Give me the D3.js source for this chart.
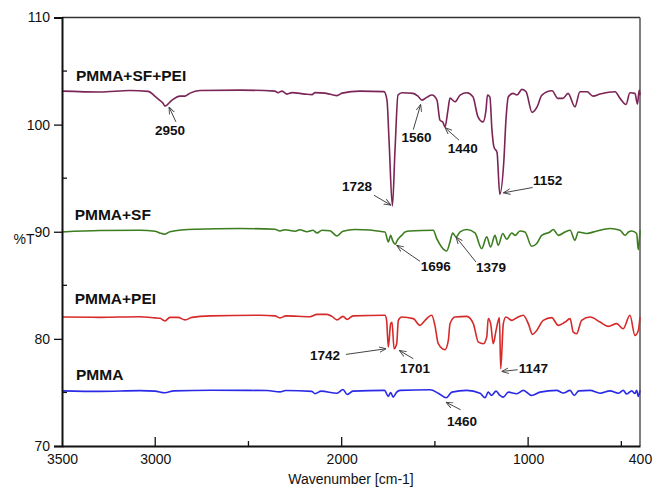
<!DOCTYPE html>
<html><head><meta charset="utf-8">
<script src="https://cdn.jsdelivr.net/npm/d3@7"></script>
<style>
html,body{margin:0;padding:0;background:#fff;}
svg{display:block;font-family:"Liberation Sans",Arial,sans-serif;}
</style></head>
<body>
<svg id="chart" width="654" height="487"></svg>
<script>
// ---------- data ----------
const seriesNames = ["PMMA+SF+PEI", "PMMA+SF", "PMMA+PEI", "PMMA"];

const wnPurple = [3500,3296,3135,3039,2996,2980,2958,2948,2910,2867,2840,2813,2760,2545,2358,2342,2320,2293,2266,2197,2159,2143,2089,2025,1998,1902,1773,1757,1746,1728,1714,1698,1676,1617,1591,1569,1542,1516,1489,1473,1457,1446,1430,1419,1392,1365,1328,1296,1269,1242,1226,1218,1205,1194,1183,1167,1152,1130,1119,1106,1081,1060,1033,1011,979,952,926,872,840,813,786,749,722,684,652,614,534,507,475,454,427,414,404,400];
const tPurple  = [103.13,103.05,103.18,103.1,102.57,102.34,102.0,101.73,102.29,102.66,102.66,102.94,103.18,103.22,103.13,102.99,103.13,102.85,102.99,102.85,102.8,102.99,102.94,102.71,102.94,103.13,103.08,102.29,98.55,92.4,97.6,102.76,102.97,102.92,102.66,102.29,102.57,102.76,102.29,100.42,100.23,99.77,101.36,102.48,102.13,102.76,102.97,102.6,100.73,100.26,101.36,102.76,102.57,99.49,97.9,97.43,93.5,96.68,100.42,102.6,102.92,102.76,103.29,103.07,101.14,101.66,102.76,103.16,102.45,102.45,102.92,101.66,103.07,103.07,102.66,102.85,103.07,102.45,101.89,102.97,102.92,101.92,103.22,102.76];

const wnGreen = [3500,3296,3082,3001,2974,2948,2921,2787,2545,2358,2331,2304,2250,2224,2186,2154,2132,2106,2063,2025,1993,1929,1768,1750,1737,1726,1712,1702,1678,1660,1634,1509,1490,1464,1437,1419,1405,1387,1365,1329,1285,1249,1222,1201,1178,1160,1136,1115,1088,1070,1044,1017,981,954,927,883,865,838,802,775,749,731,686,632,561,507,480,462,444,418,409,400];
const tGreen  = [89.98,90.11,90.14,90.05,89.87,89.77,90.0,90.23,90.3,90.23,90.07,90.19,90.05,90.19,90.0,90.14,89.89,90.14,90.09,89.61,90.05,90.21,89.98,89.05,89.66,89.14,88.83,89.2,89.66,89.98,90.07,90.14,89.35,88.58,88.2,89.05,89.89,89.52,89.98,90.21,89.89,88.43,89.52,88.58,89.66,88.74,89.83,89.3,89.89,89.66,90.07,89.98,88.64,88.9,89.66,89.98,90.21,89.66,89.98,90.14,89.2,89.98,89.83,90.07,90.3,90.14,89.66,89.98,90.07,89.83,88.33,90.14];

const wnRed = [3500,3296,3082,3001,2974,2948,2921,2878,2840,2803,2706,2438,2358,2331,2299,2170,2132,2079,2052,2025,1993,1971,1939,1768,1759,1750,1737,1730,1719,1705,1696,1678,1616,1580,1553,1517,1500,1482,1446,1428,1419,1392,1329,1294,1267,1240,1222,1214,1201,1187,1172,1160,1154,1147,1133,1119,1088,1061,1026,999,976,954,919,874,838,802,775,758,740,713,668,614,570,525,490,454,427,409,400];
const tRed  = [82.04,82.01,82.06,81.96,81.92,81.68,82.01,82.01,81.77,82.01,82.15,82.2,82.15,81.96,82.15,82.06,82.29,82.29,82.1,81.77,82.1,81.82,82.15,82.2,81.73,79.23,81.42,81.54,79.08,79.55,81.73,82.04,81.89,81.26,81.73,82.2,81.26,79.55,78.99,79.86,81.42,82.04,82.1,81.42,79.7,79.55,80.17,81.89,81.42,79.55,80.79,81.73,82.0,77.21,81.42,82.04,81.73,81.98,82.2,81.42,80.42,80.79,81.73,81.98,81.26,81.57,81.89,80.63,80.48,81.73,82.04,81.57,81.17,81.42,80.95,82.2,80.33,80.79,82.04];

const wnBlue = [3500,3296,3082,3001,2948,2900,2700,2400,2331,2300,2160,2143,2110,2025,1993,1971,1940,1770,1750,1737,1724,1705,1687,1526,1482,1440,1409,1329,1258,1231,1214,1196,1172,1151,1133,1106,1061,1026,981,936,847,811,775,753,729,668,614,561,516,490,471,444,427,418,409,400];
const tBlue  = [75.15,75.1,75.17,75.12,74.97,75.15,75.2,75.18,75.05,75.18,75.1,74.88,75.12,74.93,75.28,74.81,75.12,75.19,74.63,75.0,74.56,75.03,75.19,75.25,74.93,74.5,75.03,75.19,74.93,74.5,75.03,74.72,75.12,74.72,74.56,75.03,74.88,75.19,74.72,75.03,75.19,74.95,75.19,74.72,75.15,75.19,74.93,75.15,74.93,75.19,74.85,75.15,74.9,75.19,74.63,75.19];

const yTickValues = [70, 80, 90, 100, 110];
const yMinorTicks = [75, 85, 95, 105];
const xTickLabels = [3500, 3000, 2000, 1000, 400];
const xMajorTicks = [3000, 2000, 1000];
const xMinorTicks = [2500, 1500, 500];

// series label anchors (wavenumber, %T)
const labelW = [3425, 3432, 3432, 3425];
const labelT = [104.09, 91.12, 83.22, 76.17];

// peak annotations: text, text position, arrow tail, arrow tip (wavenumber, %T)
const annText  = ["2950","1728","1560","1440","1152","1696","1379","1742","1701","1147","1460"];
const annTextW = [2921,1918,1598,1351,895,1496,1199,2089,1607,972,1355];
const annTextT = [99.42,94.25,98.8,97.78,94.81,86.78,86.62,78.46,77.27,77.21,72.29];
const annTailW = [2889,1827,1616,1371,976,1580,1280,1977,1616,1056,1362];
const annTailT = [100.26,93.41,99.53,98.55,94.13,87.24,87.18,78.55,78.15,77.12,73.38];
const annTipW  = [2926,1736,1576,1446,1133,1705,1387,1762,1691,1142,1441];
const annTipT  = [101.64,92.48,101.89,99.72,93.63,88.74,89.51,79.08,78.92,76.96,74.09];

// ---------- drawing ----------
const svg = d3.select("#chart");
const mLeft = 62, mRight = 640, mTop = 17.5, mBottom = 446;
const x = d3.scaleLinear().domain([3500, 400]).range([mLeft, mRight]);
const y = d3.scaleLinear().domain([70, 110]).range([mBottom, mTop]);

const colors = ["#7b2456", "#3b7d1f", "#d62a2a", "#2a2ae6"];
const seriesData = [
  d3.zip(wnPurple, tPurple),
  d3.zip(wnGreen, tGreen),
  d3.zip(wnRed, tRed),
  d3.zip(wnBlue, tBlue)
];

const line = d3.line().x(d => x(d[0])).y(d => y(d[1])).curve(d3.curveMonotoneX);

svg.append("defs").append("marker")
  .attr("id", "arr").attr("viewBox", "0 0 10 10").attr("refX", 10).attr("refY", 5)
  .attr("markerWidth", 7).attr("markerHeight", 7).attr("markerUnits", "userSpaceOnUse")
  .attr("orient", "auto")
  .append("path").attr("d", "M0,1 L10,5 L0,9").attr("fill", "none")
  .attr("stroke", "#444").attr("stroke-width", 1.3);

// frame top / right
svg.append("line").attr("x1", mLeft).attr("x2", mRight).attr("y1", mTop).attr("y2", mTop)
  .attr("stroke", "#333").attr("stroke-width", 1.5);
svg.append("line").attr("x1", mRight).attr("x2", mRight).attr("y1", mTop).attr("y2", mBottom)
  .attr("stroke", "#555").attr("stroke-width", 1.5);

// lines
seriesData.forEach((d, i) => {
  svg.append("path").datum(d).attr("d", line).attr("fill", "none")
    .attr("stroke", colors[i]).attr("stroke-width", 1.6).attr("stroke-linejoin", "round");
});

// y axis
const yAxis = svg.append("g").attr("transform", `translate(${mLeft},0)`)
  .call(d3.axisLeft(y).tickValues(yTickValues).tickSize(8).tickPadding(4).tickFormat(d3.format("d")));
yAxis.select(".domain").attr("stroke", "#111").attr("stroke-width", 2);
yAxis.selectAll(".tick line").attr("stroke", "#111").attr("stroke-width", 1.3);
yAxis.selectAll("text").attr("font-size", 14).attr("fill", "#111")
  .attr("font-family", "Liberation Sans, Arial, sans-serif");
svg.append("g").selectAll("line").data(yMinorTicks).join("line")
  .attr("x1", mLeft).attr("x2", mLeft + 5).attr("y1", d => y(d)).attr("y2", d => y(d))
  .attr("stroke", "#111").attr("stroke-width", 1.3);

// x axis
const xAxis = svg.append("g").attr("transform", `translate(0,${mBottom})`)
  .call(d3.axisBottom(x).tickValues(xTickLabels).tickSize(0).tickPadding(8).tickFormat(d3.format("d")));
xAxis.select(".domain").attr("stroke", "#111").attr("stroke-width", 2);
xAxis.selectAll("text").attr("font-size", 14).attr("fill", "#111")
  .attr("font-family", "Liberation Sans, Arial, sans-serif");
svg.append("g").selectAll("line").data(xMajorTicks).join("line")
  .attr("x1", d => x(d)).attr("x2", d => x(d)).attr("y1", mBottom).attr("y2", mBottom - 9)
  .attr("stroke", "#111").attr("stroke-width", 1.3);
svg.append("g").selectAll("line").data(xMinorTicks).join("line")
  .attr("x1", d => x(d)).attr("x2", d => x(d)).attr("y1", mBottom).attr("y2", mBottom - 5)
  .attr("stroke", "#111").attr("stroke-width", 1.3);

// axis titles
svg.append("text").attr("x", 351).attr("y", 484).attr("text-anchor", "middle")
  .attr("font-size", 14).attr("fill", "#111").text("Wavenumber [cm-1]");
svg.append("text").attr("x", 24).attr("y", 239).attr("text-anchor", "middle")
  .attr("dominant-baseline", "central").attr("font-size", 14).attr("fill", "#111").text("%T");

// series labels
seriesNames.forEach((n, i) => {
  svg.append("text").attr("x", x(labelW[i])).attr("y", y(labelT[i]))
    .attr("font-size", 15.5).attr("font-weight", "bold").attr("fill", "#111").text(n);
});

// annotations
annText.forEach((t, i) => {
  svg.append("line").attr("x1", x(annTailW[i])).attr("y1", y(annTailT[i]))
    .attr("x2", x(annTipW[i])).attr("y2", y(annTipT[i]))
    .attr("stroke", "#444").attr("stroke-width", 1).attr("marker-end", "url(#arr)");
  svg.append("text").attr("x", x(annTextW[i])).attr("y", y(annTextT[i]))
    .attr("text-anchor", "middle").attr("dominant-baseline", "central")
    .attr("font-size", 13.5).attr("font-weight", "bold").attr("fill", "#111").text(t);
});
</script>
</body></html>
